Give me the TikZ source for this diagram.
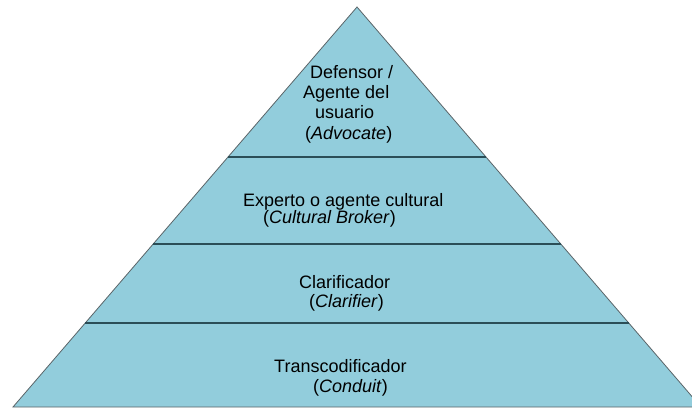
\documentclass[tikz,border=0pt]{standalone}
\usepackage{fontspec}
\setmainfont{Liberation Sans}
\usetikzlibrary{calc}

\definecolor{pyrfill}{HTML}{92CDDC}
\definecolor{pyredge}{HTML}{5A6468}
\definecolor{pyrline}{HTML}{2B4E57}

\begin{document}
\begin{tikzpicture}[x=1pt, y=-1pt,
    lbl/.style={anchor=base west, inner sep=0pt, align=left, text=black},
    sep/.style={draw=pyrline, line width=1.2pt}]

    \useasboundingbox (0,0) rectangle (692,407);
    \clip (0,0) rectangle (692,407);

    \coordinate (apex) at (357,7);
    \coordinate (bl) at (13,407);
    \coordinate (br) at (701,407);

    \filldraw[fill=pyrfill, draw=pyredge, line width=0.8pt] (apex) -- (bl) -- (br) -- cycle;

    \draw[sep] ($(apex)!0.375!(bl)$) -- ($(apex)!0.375!(br)$);
    \draw[sep] ($(apex)!0.5925!(bl)$) -- ($(apex)!0.5925!(br)$);
    \draw[sep] ($(apex)!0.79!(bl)$) -- ($(apex)!0.79!(br)$);

    % base anchor sits on the last line
    \node[lbl, font={\fontsize{18}{20.2}\selectfont}] (advocate) at (303,139)
    {\hspace*{7pt}Defensor /\\Agente del\\\hspace*{12pt}usuario\\\hspace*{2pt}(\textit{Advocate})};

    \node[lbl, font={\fontsize{18}{16.8}\selectfont}] (broker) at (243,223)
    {Experto o agente cultural\\\hspace*{20pt}(\textit{Cultural Broker})};

    \node[lbl, font={\fontsize{18}{19}\selectfont}] (clarifier) at (299,307)
    {Clarificador\\\hspace*{10pt}(\textit{Clarifier})};

    \node[lbl, font={\fontsize{18}{20}\selectfont}] (conduit) at (274,392)
    {Transcodificador\\\hspace*{39pt}(\textit{Conduit})};

\end{tikzpicture}
\end{document}
